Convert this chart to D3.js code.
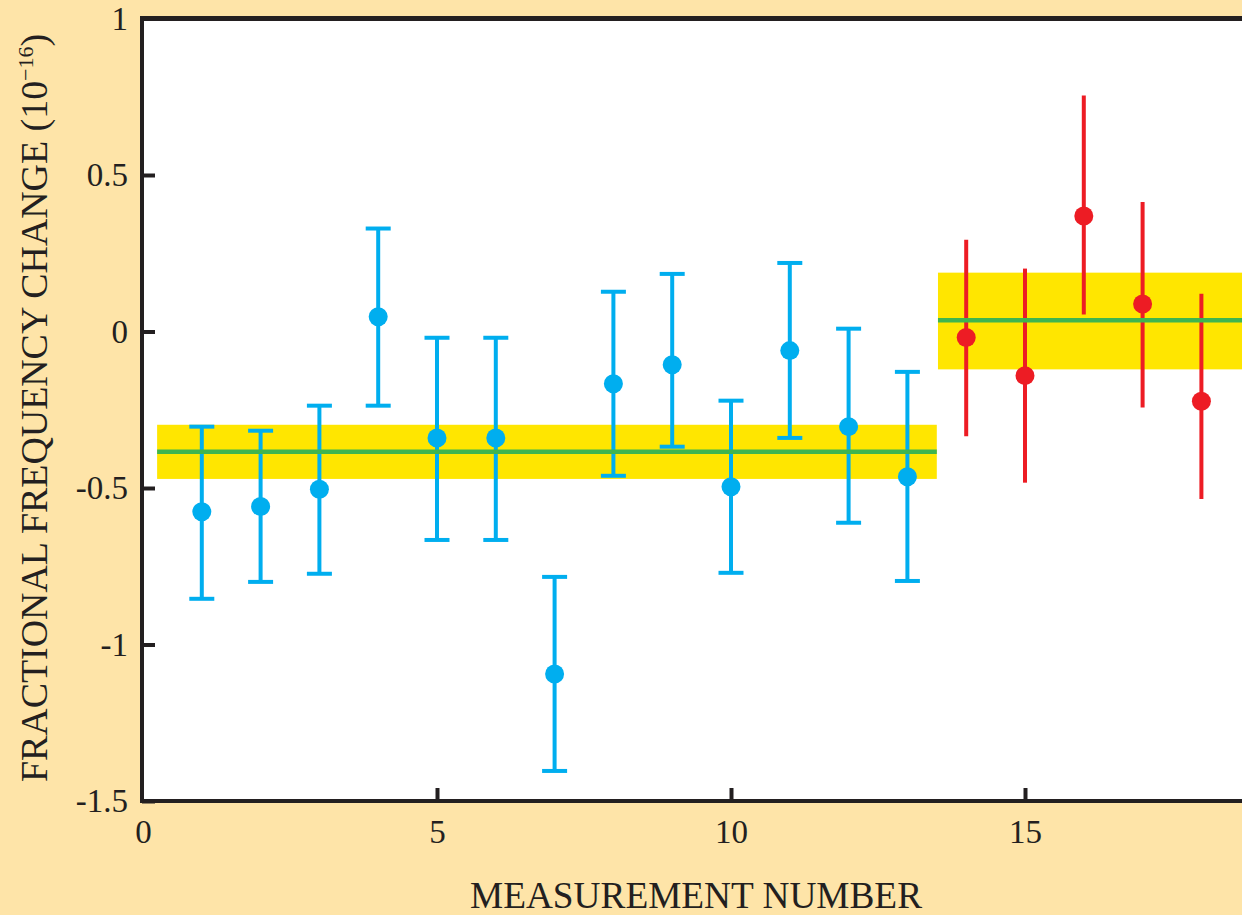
<!DOCTYPE html>
<html>
<head>
<meta charset="utf-8">
<script src="https://cdn.jsdelivr.net/npm/d3@7"></script>
<style>
  html, body { margin: 0; padding: 0; background: #fee4a8; }
  svg { display: block; }
</style>
</head>
<body>
<svg id="chart" width="1242" height="915"></svg>
<script>
// measurements (blue: 1-13, red: 14-18)
const measurement = [1, 2, 3, 4, 5, 6, 7, 8, 9, 10, 11, 12, 13, 14, 15, 16, 17, 18];
const value = [-0.576, -0.559, -0.504, 0.047, -0.340, -0.340, -1.094, -0.167, -0.106,
  -0.496, -0.061, -0.304, -0.464, -0.019, -0.141, 0.369, 0.088, -0.223];
const upper = [-0.304, -0.317, -0.237, 0.329, -0.020, -0.020, -0.784, 0.127, 0.184,
  -0.221, 0.219, 0.009, -0.129, 0.293, 0.201, 0.754, 0.414, 0.121];
const lower = [-0.854, -0.800, -0.774, -0.237, -0.666, -0.666, -1.404, -0.461, -0.368,
  -0.771, -0.340, -0.611, -0.797, -0.335, -0.483, 0.054, -0.243, -0.535];
const group = ["a", "a", "a", "a", "a", "a", "a", "a", "a", "a", "a", "a", "a", "b", "b", "b", "b", "b"];

// weighted means and their bands
const bandStart = [0.24, 13.52];
const bandEnd = [13.5, 20];
const bandMean = [-0.384, 0.036];
const bandHigh = [-0.298, 0.188];
const bandLow = [-0.471, -0.121];

const xTicks = [0, 5, 10, 15];
const yTicks = [1, 0.5, 0, -0.5, -1, -1.5];
const yTickLabels = ["1", "0.5", "0", "-0.5", "-1", "-1.5"];

const colors = { a: "#00aeef", b: "#ed1c24" };
const font = "'Liberation Serif', 'DejaVu Serif', serif";
const ink = "#231f20";

const svg = d3.select("#chart");
const plotLeft = 142, plotTop = 18.5, plotBottom = 801, plotRight = 1300;

const x = d3.scaleLinear().domain([0, 18.7]).range([143, 143 + 58.8 * 18.7]);
const y = d3.scaleLinear().domain([-1.5, 1]).range([plotBottom, plotTop]);

// white plot area
svg.append("rect")
  .attr("x", plotLeft).attr("y", plotTop)
  .attr("width", plotRight - plotLeft).attr("height", plotBottom - plotTop)
  .attr("fill", "#fff");

const bands = d3.range(bandMean.length);

svg.append("g").selectAll("rect")
  .data(bands)
  .join("rect")
  .attr("x", (i) => x(bandStart[i]))
  .attr("width", (i) => x(bandEnd[i]) - x(bandStart[i]))
  .attr("y", (i) => y(bandHigh[i]))
  .attr("height", (i) => y(bandLow[i]) - y(bandHigh[i]))
  .attr("fill", "#ffe600");

const pts = d3.range(measurement.length);

// error bars
const bars = svg.append("g").attr("stroke-width", 4);
bars.selectAll("line.bar")
  .data(pts)
  .join("line")
  .attr("class", "bar")
  .attr("x1", (i) => x(measurement[i]))
  .attr("x2", (i) => x(measurement[i]))
  .attr("y1", (i) => y(upper[i]))
  .attr("y2", (i) => y(lower[i]))
  .attr("stroke", (i) => colors[group[i]]);

// caps only on the blue set
const capped = pts.filter((i) => group[i] === "a");
for (const end of [upper, lower]) {
  bars.append("g").selectAll("line")
    .data(capped)
    .join("line")
    .attr("x1", (i) => x(measurement[i]) - 12.5)
    .attr("x2", (i) => x(measurement[i]) + 12.5)
    .attr("y1", (i) => y(end[i]))
    .attr("y2", (i) => y(end[i]))
    .attr("stroke", colors.a);
}

// mean lines
svg.append("g").selectAll("line")
  .data(bands)
  .join("line")
  .attr("x1", (i) => x(bandStart[i]))
  .attr("x2", (i) => x(bandEnd[i]))
  .attr("y1", (i) => y(bandMean[i]))
  .attr("y2", (i) => y(bandMean[i]))
  .attr("stroke", "#3fb54f")
  .attr("stroke-width", 4.5);

// points
svg.append("g").selectAll("circle")
  .data(pts)
  .join("circle")
  .attr("cx", (i) => x(measurement[i]))
  .attr("cy", (i) => y(value[i]))
  .attr("r", 9.5)
  .attr("fill", (i) => colors[group[i]]);

// frame
const frame = svg.append("g").attr("stroke", ink).attr("fill", "none");
frame.append("line").attr("x1", plotLeft).attr("x2", plotLeft)
  .attr("y1", plotTop - 2.5).attr("y2", plotBottom + 2)
  .attr("stroke-width", 4);
frame.append("line").attr("x1", plotLeft - 2).attr("x2", plotRight)
  .attr("y1", plotTop).attr("y2", plotTop)
  .attr("stroke-width", 5);
frame.append("line").attr("x1", plotLeft - 2).attr("x2", plotRight)
  .attr("y1", plotBottom).attr("y2", plotBottom)
  .attr("stroke-width", 4);

// axes
const yAxis = svg.append("g")
  .attr("transform", `translate(${plotLeft},0)`)
  .call(d3.axisLeft(y).tickValues(yTicks).tickSize(-13).tickPadding(14)
    .tickFormat((d, i) => yTickLabels[i]));

const xAxis = svg.append("g")
  .attr("transform", `translate(0,${plotBottom})`)
  .call(d3.axisBottom(x).tickValues(xTicks).tickSize(-13).tickPadding(19));

for (const ax of [yAxis, xAxis]) {
  ax.select(".domain").remove();
  ax.selectAll(".tick line").attr("stroke", ink).attr("stroke-width", 4);
  ax.selectAll(".tick text")
    .attr("fill", ink)
    .style("font-family", font)
    .style("font-size", "33px");
}
xAxis.selectAll(".tick").filter((d) => d === 0).select("line").remove();

// axis titles
svg.append("text")
  .attr("x", 696).attr("y", 908)
  .attr("text-anchor", "middle")
  .attr("textLength", 452)
  .attr("lengthAdjust", "spacingAndGlyphs")
  .attr("fill", ink)
  .style("font-family", font)
  .style("font-size", "37px")
  .text("MEASUREMENT NUMBER");

const yTitle = svg.append("text")
  .attr("transform", "translate(47,782) rotate(-90)")
  .attr("textLength", 748)
  .attr("lengthAdjust", "spacingAndGlyphs")
  .attr("fill", ink)
  .style("font-family", font)
  .style("font-size", "38px");
yTitle.append("tspan").text("FRACTIONAL  FREQUENCY CHANGE (10");
yTitle.append("tspan").attr("dy", -14).style("font-size", "22px").text("−16");
yTitle.append("tspan").attr("dy", 14).text(")");
</script>
</body>
</html>
